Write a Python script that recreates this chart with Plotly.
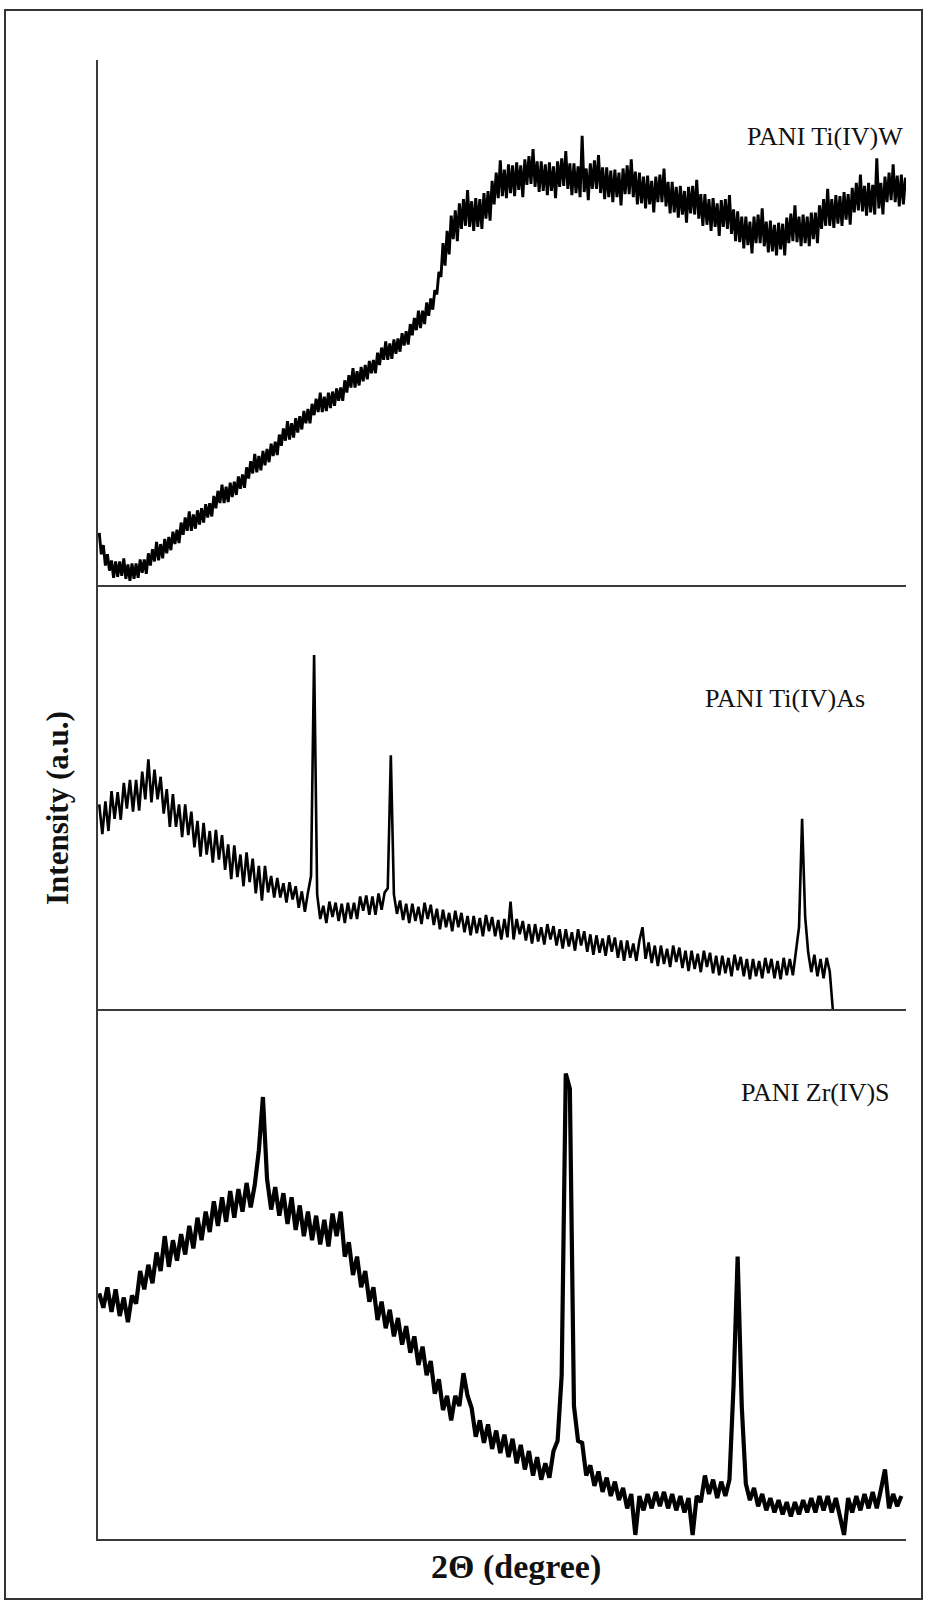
import numpy as np
import plotly.graph_objects as go

# ---- data (2theta in degrees, intensity in arbitrary units) ----
theta_start = 10.0
step_w, step_as, step_s = 0.18, 0.27, 0.36

ti_w = [51, 30, 39, 19, 30, 14, 24, 7, 23, 8, 23, 9, 26, 6, 20, 4, 21, 6, 21, 7,
        25, 12, 25, 11, 31, 19, 35, 23, 42, 24, 40, 26, 45, 31, 47, 34, 52, 40, 54, 41,
        61, 49, 66, 53, 72, 53, 69, 55, 73, 59, 75, 61, 79, 66, 80, 67, 87, 75, 92, 80,
        98, 80, 96, 81, 100, 86, 101, 88, 106, 94, 108, 95, 115, 104, 121, 109, 128, 110, 126, 112,
        131, 117, 133, 120, 138, 126, 140, 127, 147, 136, 153, 141, 160, 142, 158, 144, 163, 149, 165, 152,
        170, 158, 172, 158, 177, 166, 182, 169, 188, 169, 184, 170, 188, 173, 189, 175, 192, 180, 193, 180,
        200, 188, 205, 193, 212, 193, 209, 195, 213, 199, 215, 201, 219, 207, 220, 207, 227, 215, 232, 220,
        238, 220, 236, 221, 240, 226, 241, 228, 246, 234, 248, 235, 255, 244, 261, 249, 268, 251, 268, 255,
        276, 263, 280, 269, 288, 284, 306, 301, 334, 312, 346, 323, 361, 338, 366, 336, 373, 348, 377, 351,
        386, 350, 375, 346, 378, 350, 377, 348, 383, 358, 385, 356, 395, 372, 403, 378, 415, 380, 406, 378,
        411, 383, 410, 380, 413, 386, 410, 379, 416, 391, 419, 392, 426, 389, 414, 384, 414, 385, 411, 381,
        413, 385, 409, 378, 414, 389, 417, 390, 424, 387, 412, 381, 412, 383, 409, 379, 439, 384, 407, 376,
        412, 387, 415, 387, 420, 383, 408, 377, 408, 379, 405, 374, 406, 379, 403, 371, 407, 382, 410, 382,
        416, 379, 404, 372, 403, 373, 399, 368, 400, 372, 395, 364, 399, 374, 401, 374, 407, 370, 394, 363,
        394, 364, 389, 359, 390, 362, 385, 354, 389, 363, 390, 362, 396, 358, 382, 351, 382, 352, 377, 346,
        378, 350, 373, 341, 376, 350, 377, 348, 381, 343, 367, 336, 365, 335, 360, 329, 360, 332, 355, 324,
        360, 334, 362, 334, 368, 331, 355, 325, 356, 326, 352, 322, 354, 328, 353, 322, 359, 334, 363, 336,
        371, 335, 360, 331, 362, 334, 360, 331, 364, 338, 364, 334, 371, 348, 377, 351, 387, 351, 377, 349,
        381, 353, 380, 351, 384, 357, 382, 352, 388, 364, 393, 366, 401, 365, 390, 361, 393, 364, 391, 362,
        417, 368, 393, 362, 399, 374, 403, 376, 411, 374, 400, 370, 401, 372, 398]

ti_as = [200, 171, 203, 174, 213, 186, 212, 185, 221, 196, 224, 193, 224, 194, 232, 205, 244, 202, 234, 205,
         227, 191, 215, 178, 210, 178, 200, 168, 200, 170, 193, 158, 184, 149, 182, 151, 174, 143, 175, 146,
         170, 136, 161, 127, 160, 129, 151, 120, 153, 124, 147, 113, 140, 106, 140, 114, 130, 109, 128, 109,
         123, 104, 124, 107, 120, 99, 115, 95, 114, 130, 346, 112, 88, 101, 84, 105, 90, 104, 86, 103,
         84, 104, 88, 104, 88, 110, 96, 111, 92, 110, 92, 113, 97, 114, 118, 248, 112, 93, 106, 87,
         103, 84, 103, 86, 100, 83, 104, 88, 102, 82, 98, 78, 97, 80, 94, 76, 96, 80, 94, 75,
         91, 72, 91, 74, 89, 71, 92, 76, 90, 71, 87, 68, 88, 70, 105, 68, 88, 73, 86, 67,
         83, 64, 83, 66, 80, 63, 83, 68, 81, 62, 78, 59, 78, 61, 75, 57, 78, 62, 76, 56,
         73, 53, 72, 55, 69, 52, 72, 56, 70, 50, 67, 47, 67, 50, 64, 47, 67, 80, 49, 65,
         45, 62, 42, 62, 44, 59, 41, 62, 46, 60, 40, 57, 37, 57, 39, 54, 36, 57, 41, 55,
         35, 52, 33, 52, 35, 50, 32, 53, 38, 51, 32, 49, 29, 49, 32, 47, 30, 50, 35, 49,
         30, 47, 29, 50, 33, 49, 33, 56, 80, 186, 90, 55, 36, 53, 32, 49, 30, 50, 37, 0]

zr_s = [240, 226, 246, 222, 244, 218, 236, 212, 238, 230, 262, 244, 268, 250, 280, 262, 296, 266, 292, 272,
        298, 278, 306, 284, 314, 292, 320, 300, 330, 306, 334, 310, 340, 314, 342, 320, 348, 324, 346, 380,
        432, 352, 322, 344, 316, 338, 308, 334, 302, 326, 296, 320, 292, 316, 288, 312, 286, 318, 296, 320,
        276, 290, 258, 276, 246, 262, 232, 246, 214, 232, 206, 224, 198, 216, 190, 208, 182, 198, 170, 188,
        160, 174, 142, 156, 126, 140, 116, 140, 130, 162, 140, 128, 100, 116, 94, 112, 88, 106, 84, 102,
        80, 98, 74, 92, 68, 86, 62, 80, 58, 74, 60, 86, 96, 160, 455, 440, 130, 96, 94, 62,
        72, 52, 66, 46, 60, 42, 56, 38, 50, 30, 44, 4, 42, 28, 44, 30, 46, 32, 46, 30,
        44, 28, 42, 26, 40, 4, 42, 36, 62, 44, 58, 40, 56, 42, 58, 150, 276, 130, 54, 38,
        50, 32, 44, 28, 40, 26, 38, 24, 36, 22, 36, 24, 38, 26, 40, 26, 42, 28, 42, 26,
        40, 24, 4, 40, 26, 42, 28, 44, 30, 46, 30, 48, 68, 30, 44, 32, 42]

labels = ["PANI Ti(IV)W", "PANI Ti(IV)As", "PANI Zr(IV)S"]
x_title = "2Θ (degree)"
y_title = "Intensity (a.u.)"


def grid(n, step):
    return theta_start + step * np.arange(n)


W, H = 928, 1604
L, R, T, B = 98, 906, 60, 1539
pw, ph = R - L, B - T


def px(xp):
    return (xp - L) / pw


def py(yp):
    return (B - yp) / ph


sep1, sep2 = 585, 1009
dom_top = [py(sep1), 1.0]
dom_mid = [py(sep2), py(sep1)]
dom_bot = [0.0, py(sep2)]

fig = go.Figure()
fig.add_trace(go.Scatter(x=grid(len(ti_w), step_w), y=ti_w, mode="lines",
                         line=dict(color="black", width=2.9), xaxis="x", yaxis="y"))
fig.add_trace(go.Scatter(x=grid(len(ti_as), step_as), y=ti_as, mode="lines",
                         line=dict(color="black", width=2.6), xaxis="x2", yaxis="y2"))
fig.add_trace(go.Scatter(x=grid(len(zr_s), step_s), y=zr_s, mode="lines",
                         line=dict(color="black", width=4.2), xaxis="x3", yaxis="y3"))

xr = [9.89, 80.97]
axis_line = dict(showline=True, linecolor="#3a3a3a", linewidth=2, showgrid=False,
                 zeroline=False, showticklabels=False, ticks="")
fig.update_layout(
    width=W, height=H,
    margin=dict(l=L, r=W - R, t=T, b=H - B),
    paper_bgcolor="white", plot_bgcolor="white",
    showlegend=False,
    xaxis=dict(range=xr, anchor="y", **axis_line),
    xaxis2=dict(range=xr, anchor="y2", **axis_line),
    xaxis3=dict(range=xr, anchor="y3", **axis_line),
    yaxis=dict(domain=dom_top, range=[0, 513], anchor="x", **axis_line),
    yaxis2=dict(domain=dom_mid, range=[0, 414.5], anchor="x2", **axis_line),
    yaxis3=dict(domain=dom_bot, range=[0, 518], anchor="x3", **axis_line),
)

serif = "Liberation Serif, Times New Roman, serif"
ann = [
    dict(text=labels[0], x=px(825), y=py(136), font=dict(size=26)),
    dict(text=labels[1], x=px(785), y=py(698), font=dict(size=26)),
    dict(text=labels[2], x=px(815), y=py(1092), font=dict(size=26)),
    dict(text="<b>" + y_title + "</b>", x=px(57), y=py(808), textangle=-90, font=dict(size=31)),
    dict(text="<b>" + x_title + "</b>", x=px(516), y=py(1567), font=dict(size=34)),
]
for a in ann:
    a["font"]["family"] = serif
    a["font"]["color"] = "#111111"
    fig.add_annotation(xref="paper", yref="paper", showarrow=False,
                       xanchor="center", yanchor="middle", **a)

fig.add_shape(type="rect", xref="paper", yref="paper",
              x0=px(5), x1=px(922), y0=py(1599), y1=py(10),
              line=dict(color="#333333", width=2), layer="above")

fig.write_html("out.html", config={"displayModeBar": False},
               post_script="document.body.style.margin='0px';")
